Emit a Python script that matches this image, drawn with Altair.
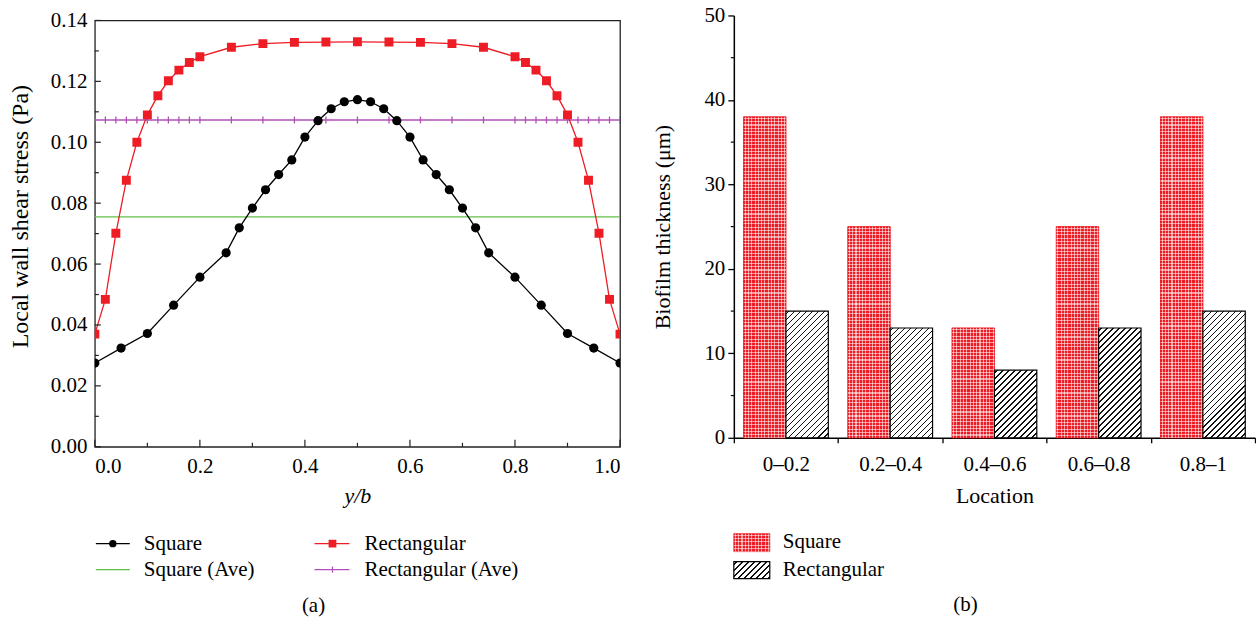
import altair as alt
import pandas as pd

# ---------------- panel (a) data ----------------
sq_x = [0.0, 0.05, 0.10, 0.15, 0.20, 0.25, 0.275, 0.30, 0.325, 0.35, 0.375, 0.40, 0.425,
        0.45, 0.475, 0.50, 0.525, 0.55, 0.575, 0.60, 0.625, 0.65, 0.675, 0.70, 0.725,
        0.75, 0.80, 0.85, 0.90, 0.95, 1.0]
sq_y = [0.0275, 0.0324, 0.0372, 0.0465, 0.0557, 0.0637, 0.0719, 0.0784, 0.0844, 0.0894,
        0.0942, 0.1017, 0.1071, 0.1110, 0.1133, 0.1140, 0.1133, 0.1110, 0.1071, 0.1017,
        0.0942, 0.0894, 0.0844, 0.0784, 0.0719, 0.0637, 0.0557, 0.0465, 0.0372, 0.0324,
        0.0275]
rc_x = [0.0, 0.02, 0.04, 0.06, 0.08, 0.10, 0.12, 0.14, 0.16, 0.18, 0.20, 0.26, 0.32, 0.38,
        0.44, 0.50, 0.56, 0.62, 0.68, 0.74, 0.80, 0.82, 0.84, 0.86, 0.88, 0.90, 0.92, 0.94,
        0.96, 0.98, 1.0]
rc_y = [0.0370, 0.0484, 0.0701, 0.0875, 0.1000, 0.1090, 0.1153, 0.1202, 0.1237, 0.1262,
        0.1281, 0.1312, 0.1324, 0.1328, 0.1329, 0.1330, 0.1329, 0.1328, 0.1324, 0.1312,
        0.1281, 0.1262, 0.1237, 0.1202, 0.1153, 0.1090, 0.1000, 0.0875, 0.0701, 0.0484,
        0.0370]
sq_ave = 0.0755
rc_ave = 0.1073
ave_x = [0.0, 1.0]
series_a = ["Square", "Rectangular", "Square (Ave)", "Rectangular (Ave)"]

y_labels_a = [0.00, 0.02, 0.04, 0.06, 0.08, 0.10, 0.12, 0.14]
y_minor_a = [0.01, 0.03, 0.05, 0.07, 0.09, 0.11, 0.13]
x_labels_a = [0.0, 0.2, 0.4, 0.6, 0.8, 1.0]
x_minor_a = [0.1, 0.3, 0.5, 0.7, 0.9]

# ---------------- panel (b) data ----------------
locations = ["0\u20130.2", "0.2\u20130.4", "0.4\u20130.6", "0.6\u20130.8", "0.8\u20131"]
series_b = ["Square", "Rectangular"]
square_thick = [38, 25, 13, 25, 38]
rect_thick = [15, 13, 8, 13, 15]
y_labels_b = [0, 10, 20, 30, 40, 50]
y_minor_b = [5, 15, 25, 35, 45]

FONT = "Liberation Serif"
FS = 21
TFS = 22
RED = "#ee1c24"
BLACK_C = "#000000"
GREEN = "#62bf45"
PURPLE = "#b24fb8"

W_A, H_A = 526, 427
W_B, H_B = 522, 418
B_TOP = -5          # panel (b) value 50 sits 5 px above panel (a)'s top
OFF_PAD = 0.23
PX_PER_UNIT_B = (H_B - B_TOP) / 50

# ---------------- helpers ----------------
def stripe_stops(length, period, thick, fg, bg, phase):
    stops = [{"offset": 0, "color": bg}]
    s = phase
    while s - thick / 2 < length:
        a = max(0.0, (s - thick / 2) / length)
        b = min(1.0, (s + thick / 2) / length)
        if b > 0:
            stops += [{"offset": a, "color": bg}, {"offset": a, "color": fg},
                      {"offset": b, "color": fg}, {"offset": b, "color": bg}]
        s += period
    stops.append({"offset": 1, "color": bg})
    return stops


def hatch(w, h):
    L = w + h
    c = L * w / (w * w + h * h)
    return {"gradient": "linear", "x1": 0, "y1": 0, "x2": c, "y2": c * h / w,
            "stops": stripe_stops(L, 6.0, 1.6, "#111111", "#ffffff", 3.0)}


DOT_FG = "rgba(255,255,255,0.55)"
DOT_BG = "rgba(255,255,255,0)"


def hstripes(h):
    return {"gradient": "linear", "x1": 0, "y1": 0, "x2": 0, "y2": 1,
            "stops": stripe_stops(h, 3.3, 1.1, DOT_FG, DOT_BG, 1.6)}


def vstripes(w):
    return {"gradient": "linear", "x1": 0, "y1": 0, "x2": 1, "y2": 0,
            "stops": stripe_stops(w, 3.3, 1.1, DOT_FG, DOT_BG, 1.6)}


def one(label):
    return alt.Data(values=[{"t": label}])


def text_at(label, x, y, align="left", style="normal"):
    return alt.Chart(one(label)).mark_text(
        align=align, baseline="middle", font=FONT, fontSize=FS, color="black",
        fontStyle=style
    ).encode(x=alt.value(x), y=alt.value(y), text="t:N")


# ---------------- panel (a) ----------------
xs = alt.Scale(domain=[0, 1], nice=False, zero=False)
ys = alt.Scale(domain=[0, 0.14], nice=False)
ax_x = alt.Axis(values=x_labels_a, format=".1f", ticks=False, domain=False, grid=False,
                labelPadding=9, title="y/b", titleFontStyle="italic", titlePadding=9)
ax_y = alt.Axis(values=y_labels_a, format=".2f", ticks=False, domain=False, grid=False,
                labelPadding=8, title="Local wall shear stress (Pa)", titlePadding=18,
                titleFontSize=24, titleY=196)


def X(f="x"):
    return alt.X(f"{f}:Q", scale=xs, axis=ax_x)


def Y(f="y"):
    return alt.Y(f"{f}:Q", scale=ys, axis=ax_y)


df_sq = pd.DataFrame({"x": sq_x, "y": sq_y})
df_rc = pd.DataFrame({"x": rc_x, "y": rc_y})
df_sq_ave = pd.DataFrame({"x": ave_x, "y": [sq_ave] * len(ave_x)})
df_rc_ave = pd.DataFrame({"x": ave_x, "y": [rc_ave] * len(ave_x)})
df_rc_ave_pts = pd.DataFrame({"x": rc_x, "y": [rc_ave] * len(rc_x)})

TICK_PATH = "M0,-1L0,1"

green_line = alt.Chart(df_sq_ave).mark_line(color=GREEN, strokeWidth=1.4, clip=True).encode(x=X(), y=Y())
purple_line = alt.Chart(df_rc_ave).mark_line(color=PURPLE, strokeWidth=1.4, clip=True).encode(x=X(), y=Y())
purple_pts = alt.Chart(df_rc_ave_pts).mark_point(shape=TICK_PATH, size=49, color=PURPLE,
                                                  strokeWidth=1.3, filled=False, opacity=1,
                                                  clip=True).encode(x=X(), y=Y())
red_line = alt.Chart(df_rc).mark_line(color=RED, strokeWidth=1.3, clip=True).encode(x=X(), y=Y())
red_pts = alt.Chart(df_rc).mark_point(shape="square", size=80, color=RED, filled=True,
                                       opacity=1, clip=True).encode(x=X(), y=Y())
blk_line = alt.Chart(df_sq).mark_line(color=BLACK_C, strokeWidth=1.3, clip=True).encode(x=X(), y=Y())
blk_pts = alt.Chart(df_sq).mark_point(shape="circle", size=85, color=BLACK_C, filled=True,
                                       opacity=1, clip=True).encode(x=X(), y=Y())

tick_y_major = alt.Chart(alt.Data(values=[{"y": v} for v in y_labels_a])).mark_rule(
    color="#222", strokeWidth=1.2).encode(y=Y(), x=alt.value(0), x2=alt.value(6))
tick_y_minor = alt.Chart(alt.Data(values=[{"y": v} for v in y_minor_a])).mark_rule(
    color="#222", strokeWidth=1.2).encode(y=Y(), x=alt.value(0), x2=alt.value(4))
tick_x_major = alt.Chart(alt.Data(values=[{"x": v} for v in x_labels_a])).mark_rule(
    color="#222", strokeWidth=1.2).encode(x=X(), y=alt.value(H_A), y2=alt.value(H_A - 7))
tick_x_minor = alt.Chart(alt.Data(values=[{"x": v} for v in x_minor_a])).mark_rule(
    color="#222", strokeWidth=1.2).encode(x=X(), y=alt.value(H_A), y2=alt.value(H_A - 4))

# legend (a)
LA_Y1, LA_Y2 = 524, 550
leg_a = [
    alt.Chart(one(series_a[0])).mark_rule(color=BLACK_C, strokeWidth=1.3).encode(
        x=alt.value(1), x2=alt.value(35), y=alt.value(LA_Y1)),
    alt.Chart(one(series_a[0])).mark_point(shape="circle", size=55, color=BLACK_C, filled=True,
                                          opacity=1).encode(x=alt.value(18), y=alt.value(LA_Y1)),
    text_at(series_a[0], 49, LA_Y1),
    alt.Chart(one(series_a[1])).mark_rule(color=RED, strokeWidth=1.3).encode(
        x=alt.value(220), x2=alt.value(255), y=alt.value(LA_Y1)),
    alt.Chart(one(series_a[1])).mark_point(shape="square", size=60, color=RED, filled=True,
                                          opacity=1).encode(x=alt.value(238), y=alt.value(LA_Y1)),
    text_at(series_a[1], 270, LA_Y1),
    alt.Chart(one(series_a[2])).mark_rule(color=GREEN, strokeWidth=1.3).encode(
        x=alt.value(1), x2=alt.value(35), y=alt.value(LA_Y2)),
    text_at(series_a[2], 49, LA_Y2),
    alt.Chart(one(series_a[3])).mark_rule(color=PURPLE, strokeWidth=1.3).encode(
        x=alt.value(220), x2=alt.value(255), y=alt.value(LA_Y2)),
    alt.Chart(one(series_a[3])).mark_point(shape=TICK_PATH, size=36, color=PURPLE, filled=False,
                                          strokeWidth=1.3, opacity=1).encode(
        x=alt.value(238), y=alt.value(LA_Y2)),
    text_at(series_a[3], 270, LA_Y2),
    text_at("(a)", 219, 586, align="center"),
]

left = alt.layer(
    green_line, purple_line, purple_pts, red_line, red_pts, blk_line, blk_pts,
    tick_y_major, tick_y_minor, tick_x_major, tick_x_minor, *leg_a
).properties(width=W_A, height=H_A,
             view=alt.ViewBackground(stroke="#222222", strokeWidth=1.3))

# ---------------- panel (b) ----------------
band = W_B / len(locations)
bar_w = band / (2 + 2 * OFF_PAD)

records = []
for loc, sv, rv in zip(locations, square_thick, rect_thick):
    records.append({"loc": loc, "series": series_b[0], "v": sv,
                    "pat": hstripes(sv * PX_PER_UNIT_B)})
    records.append({"loc": loc, "series": series_b[1], "v": rv,
                    "pat": hatch(bar_w, rv * PX_PER_UNIT_B)})
bars_data = alt.Data(values=records)

xb = alt.X("loc:N", sort=locations,
           scale=alt.Scale(domain=locations, paddingInner=0, paddingOuter=0),
           axis=alt.Axis(tickBand="extent", labelAngle=0, title="Location", tickSize=5,
                         tickColor="black", domainColor="black", tickWidth=1.3,
                         domainWidth=1.5, labelPadding=11, titlePadding=11))
xo = alt.XOffset("series:N", sort=series_b,
                 scale=alt.Scale(domain=series_b, paddingInner=0, paddingOuter=OFF_PAD))
yb = alt.Y("v:Q", stack=None,
           scale=alt.Scale(domain=[0, 50], nice=False, range=[H_B, B_TOP]),
           axis=alt.Axis(values=y_labels_b, tickSize=6, tickColor="black", domainColor="black",
                         tickWidth=1.3, domainWidth=1.5, grid=False, labelPadding=3,
                         title="Biofilm thickness (\u03bcm)", titlePadding=29))

base_b = alt.Chart(bars_data)
red_base = base_b.mark_bar(fill=RED, stroke=RED, strokeWidth=1).encode(
    x=xb, xOffset=xo, y=yb).transform_filter(alt.datum.series == series_b[0])
red_v = base_b.mark_bar(fill=vstripes(bar_w), strokeWidth=0).encode(
    x=xb, xOffset=xo, y=yb).transform_filter(alt.datum.series == series_b[0])
red_h = base_b.mark_bar(strokeWidth=0).encode(
    x=xb, xOffset=xo, y=yb, fill=alt.Fill("pat:N", scale=None)
).transform_filter(alt.datum.series == series_b[0])
rect_bars = base_b.mark_bar(stroke="black", strokeWidth=1.2).encode(
    x=xb, xOffset=xo, y=yb, fill=alt.Fill("pat:N", scale=None)
).transform_filter(alt.datum.series == series_b[1])

minor_b = alt.Chart(alt.Data(values=[{"v": v} for v in y_minor_b])).mark_rule(
    color="black", strokeWidth=1.2).encode(y=yb, x=alt.value(-3), x2=alt.value(0))

LB_X1, LB_X2 = 0, 36
R1_Y1, R1_Y2 = 514, 532
R2_Y1, R2_Y2 = 542, 559
leg_b = [
    alt.Chart(one(series_b[0])).mark_rect(fill=RED, stroke=RED, strokeWidth=0.8).encode(
        x=alt.value(LB_X1), x2=alt.value(LB_X2), y=alt.value(R1_Y1), y2=alt.value(R1_Y2)),
    alt.Chart(one(series_b[0])).mark_rect(fill=vstripes(36)).encode(
        x=alt.value(LB_X1), x2=alt.value(LB_X2), y=alt.value(R1_Y1), y2=alt.value(R1_Y2)),
    alt.Chart(one(series_b[0])).mark_rect(fill=hstripes(18)).encode(
        x=alt.value(LB_X1), x2=alt.value(LB_X2), y=alt.value(R1_Y1), y2=alt.value(R1_Y2)),
    text_at(series_b[0], 49, 522),
    alt.Chart(one(series_b[1])).mark_rect(fill=hatch(36, 17), stroke="black",
                                         strokeWidth=1.2).encode(
        x=alt.value(LB_X1), x2=alt.value(LB_X2), y=alt.value(R2_Y1), y2=alt.value(R2_Y2)),
    text_at(series_b[1], 49, 550),
    text_at("(b)", 232, 585, align="center"),
]

right = alt.layer(red_base, red_v, red_h, rect_bars, minor_b, *leg_b).properties(
    width=W_B, height=H_B)

chart = alt.hconcat(left, right, spacing=114, bounds="flush").configure(
    padding={"left": 7, "top": 4, "right": 0, "bottom": 0},
    font=FONT,
).configure_view(stroke=None).configure_axis(
    labelFont=FONT, titleFont=FONT, labelFontSize=FS, titleFontSize=TFS,
    labelColor="black", titleColor="black", titleFontWeight="normal",
)

chart.save("out.html", embed_options={"renderer": "svg", "actions": False})
